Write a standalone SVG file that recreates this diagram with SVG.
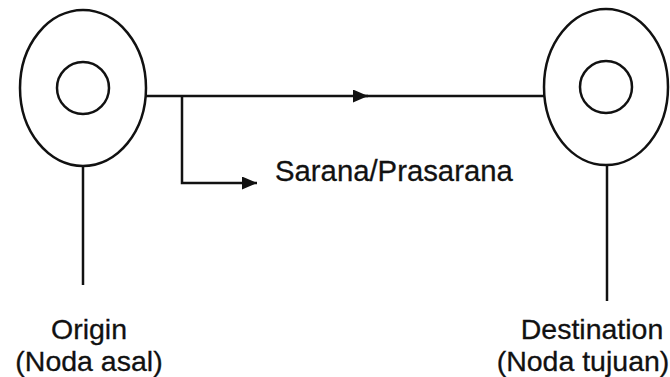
<svg xmlns="http://www.w3.org/2000/svg" width="670" height="377" viewBox="0 0 670 377">
  <defs>
    <marker id="arrow" markerWidth="15" markerHeight="13" refX="15" refY="6.5" orient="auto" markerUnits="userSpaceOnUse">
      <path d="M0,0 L15,6.5 L0,13 Z" fill="#111"/>
    </marker>
  </defs>
  <style>
    .ring { fill: none; stroke: #111; stroke-width: 2.5; }
    .wire { fill: none; stroke: #111; stroke-width: 2.5; }
    .label { font-family: "Liberation Sans", Arial, sans-serif; font-size: 28.5px; fill: #111; stroke: #111; stroke-width: 0.3; text-anchor: middle; }
  </style>
  <rect width="670" height="377" fill="#fff"/>

  <!-- origin node -->
  <g id="origin">
    <ellipse class="ring" cx="83" cy="88" rx="63" ry="78"/>
    <circle class="ring" cx="83" cy="88" r="26"/>
    <line class="wire" x1="83" y1="166" x2="83" y2="285"/>
    <text class="label" x="89" y="339">Origin</text>
    <text class="label" x="89" y="371">(Noda asal)</text>
  </g>

  <!-- destination node -->
  <g id="destination">
    <ellipse class="ring" cx="606" cy="87" rx="62" ry="78"/>
    <circle class="ring" cx="606" cy="87" r="26"/>
    <line class="wire" x1="607" y1="165" x2="607" y2="301"/>
    <text class="label" x="592" y="339">Destination</text>
    <text class="label" x="583" y="371">(Noda tujuan)</text>
  </g>

  <!-- facility label -->
  <g id="facility">
    <text class="label" x="275" y="181" style="text-anchor:start; font-size:29.3px">Sarana/Prasarana</text>
  </g>

  <!-- connectors -->
  <g id="connectors">
    <line class="wire" x1="146" y1="96" x2="368" y2="96" marker-end="url(#arrow)"/>
    <line class="wire" x1="360" y1="96" x2="544" y2="96"/>
    <polyline class="wire" points="182,96 182,183 257,183" marker-end="url(#arrow)"/>
  </g>
</svg>
